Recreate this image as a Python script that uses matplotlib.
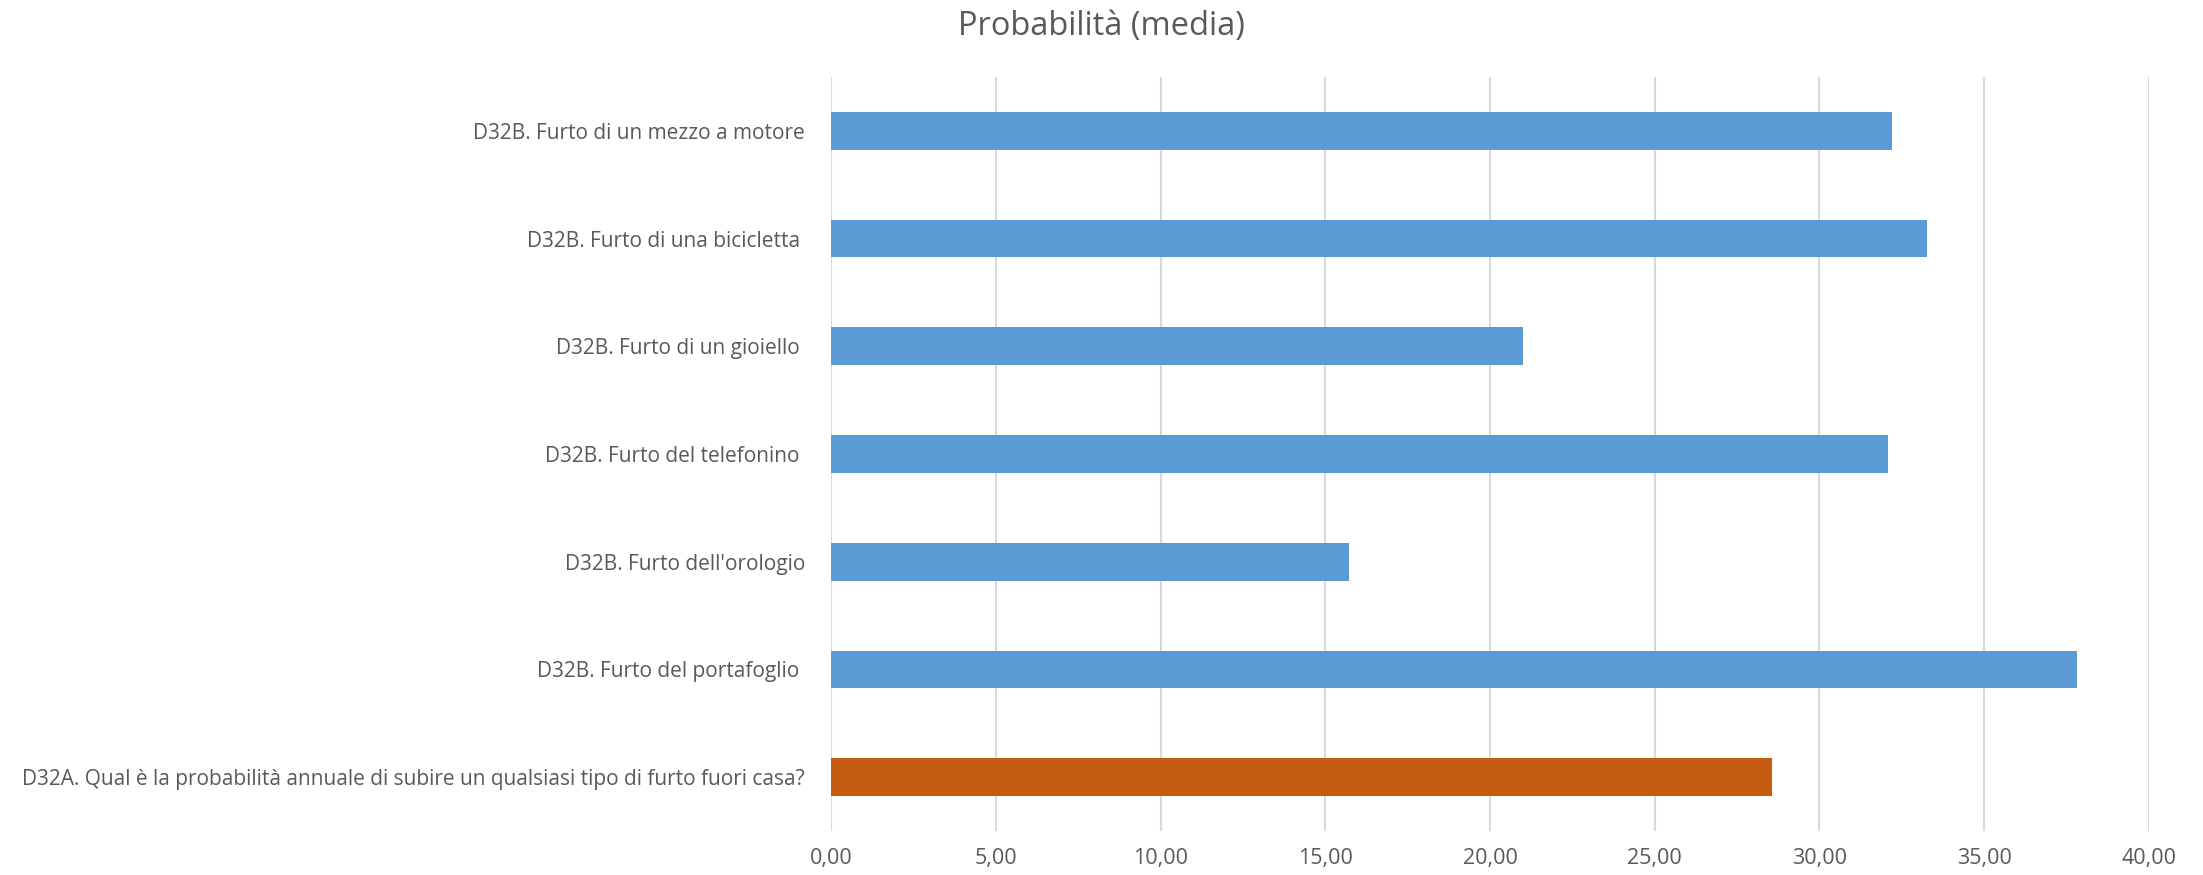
import matplotlib
matplotlib.use('Agg')
import matplotlib.pyplot as plt
from matplotlib.ticker import FuncFormatter

plt.rcParams['font.family'] = ['Open Sans', 'DejaVu Sans']

# Categories listed top to bottom
categories = [
    'D32B. Furto di un mezzo a motore',
    'D32B. Furto di una bicicletta ',
    'D32B. Furto di un gioiello ',
    'D32B. Furto del telefonino ',
    "D32B. Furto dell'orologio",
    'D32B. Furto del portafoglio ',
    'D32A. Qual è la probabilità annuale di subire un qualsiasi tipo di furto fuori casa?',
]
values = [32.20, 33.27, 20.99, 32.08, 15.71, 37.82, 28.55]
bar_colors = ['#5B9BD5'] * 6 + ['#C55A11']

text_color = '#595959'

fig = plt.figure(figsize=(22.03, 8.75), dpi=100)
ax = fig.add_axes([0.3774, 0.0503, 0.598, 0.8617])

ypos = list(range(len(categories)))[::-1]
ax.barh(ypos, values, height=0.35, color=bar_colors, zorder=3)

ax.set_xlim(0, 40)
ax.set_ylim(-0.5, len(categories) - 0.5)
ax.set_xticks(range(0, 41, 5))
ax.xaxis.set_major_formatter(FuncFormatter(lambda v, p: f'{v:.2f}'.replace('.', ',')))
ax.set_yticks(ypos)
ax.set_yticklabels(categories)

ax.grid(axis='x', color='#D9D9D9', linewidth=1.5, zorder=0)
for s in ax.spines.values():
    s.set_visible(False)
ax.tick_params(axis='both', length=0, colors=text_color)
ax.tick_params(axis='x', pad=12, labelsize=15.5)
ax.tick_params(axis='y', pad=19, labelsize=15)

fig.text(0.4999, 0.97, 'Probabilità (media)', ha='center', va='center',
         fontsize=23.5, color=text_color)

fig.savefig('out.png', dpi=100)
